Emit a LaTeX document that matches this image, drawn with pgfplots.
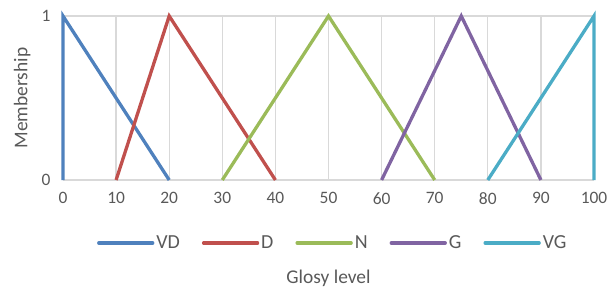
\documentclass[border=0pt]{standalone}
\usepackage{pgfplots}
\pgfplotsset{compat=1.18}
\usepackage{fontspec}
\setmainfont{Carlito}
\definecolor{cVD}{HTML}{4F81BD}
\definecolor{cD}{HTML}{C0504D}
\definecolor{cN}{HTML}{9BBB59}
\definecolor{cG}{HTML}{8064A2}
\definecolor{cVG}{HTML}{4BACC6}
\definecolor{txt}{HTML}{595959}
\definecolor{grd}{HTML}{D9D9D9}
\begin{document}
\begin{tikzpicture}
\begin{axis}[
  scale only axis,
  width=531bp, height=164bp,
  xmin=0, xmax=100, ymin=0, ymax=1,
  xtick={0,10,...,100}, ytick={0,1},
  xmajorgrids, ymajorgrids,
  major grid style={grd, line width=1.2bp},
  axis line style={draw=none},
  major tick length=0pt,
  tick label style={font=\fontsize{17.5}{20}\selectfont, text=txt},
  /pgf/number format/assume math mode=true,
  xticklabel style={yshift=-9bp},
  yticklabel style={xshift=-9bp},
  ylabel={Membership},
  ylabel style={at={(axis description cs:-0.077,0.5)}, anchor=center, font=\fontsize{19.5}{22}\selectfont, text=txt},
  xlabel={Glosy level},
  xlabel style={at={(axis description cs:0.5,-0.598)}, anchor=center, font=\fontsize{19.5}{22}\selectfont, text=txt},
  legend columns=5,
  legend style={at={(axis description cs:0.508,-0.384)}, anchor=center, draw=none, fill=none,
    font=\fontsize{20}{22}\selectfont, text=txt,
    /tikz/every even column/.append style={column sep=20bp}},
  legend image code/.code={\draw[#1, line cap=round] (0bp,0bp) -- (54bp,0bp);},
  every axis plot/.append style={line width=3.3bp},
  clip=false,
]
\addplot[cVD] coordinates {(0,0) (0,1) (20,0)};
\addlegendentry{VD}
\addplot[cD] coordinates {(10,0) (20,1) (40,0)};
\addlegendentry{D}
\addplot[cN] coordinates {(30,0) (50,1) (70,0)};
\addlegendentry{N}
\addplot[cG] coordinates {(60,0) (75,1) (90,0)};
\addlegendentry{G}
\addplot[cVG] coordinates {(80,0) (100,1) (100,0)};
\addlegendentry{VG}
\end{axis}
\pgfresetboundingbox
\path[use as bounding box] ([shift={(-63bp,-113bp)}]current axis.south west) rectangle ([shift={(20bp,16bp)}]current axis.north east);
\end{tikzpicture}
\end{document}
